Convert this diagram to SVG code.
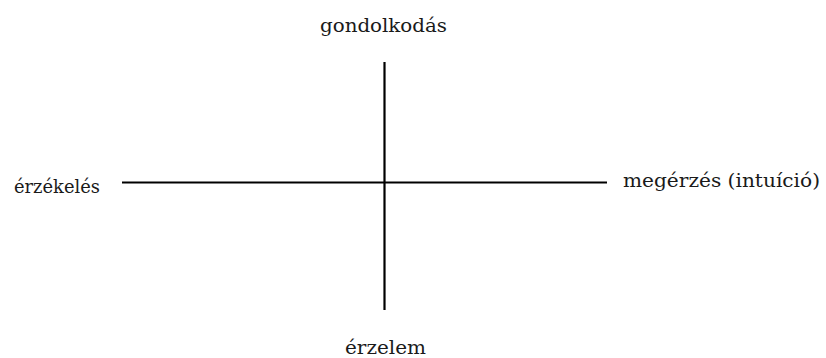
<svg xmlns="http://www.w3.org/2000/svg" width="826" height="358" viewBox="0 0 826 358">
<style>
.lbl{font-family:'DejaVu Serif','Liberation Serif',serif;font-size:18px;fill:#1a1a1a}
.ax{stroke:#000;stroke-width:2.2;fill:none}
</style>
<rect width="826" height="358" fill="#fff"/>
<g id="connectors">
<line class="ax" x1="122" y1="182.5" x2="607" y2="182.5"/>
<line class="ax" x1="384.5" y1="62" x2="384.5" y2="310"/>
</g>
<g id="gondolkodas"><text class="lbl" x="320" y="32" textLength="127" lengthAdjust="spacingAndGlyphs">gondolkodás</text></g>
<g id="erzekeles"><text class="lbl" x="14" y="193" textLength="86" lengthAdjust="spacingAndGlyphs">érzékelés</text></g>
<g id="megerzes"><text class="lbl" x="623" y="187" textLength="197" lengthAdjust="spacingAndGlyphs">megérzés (intuíció)</text></g>
<g id="erzelem"><text class="lbl" x="345" y="354" textLength="81" lengthAdjust="spacingAndGlyphs">érzelem</text></g>
</svg>
